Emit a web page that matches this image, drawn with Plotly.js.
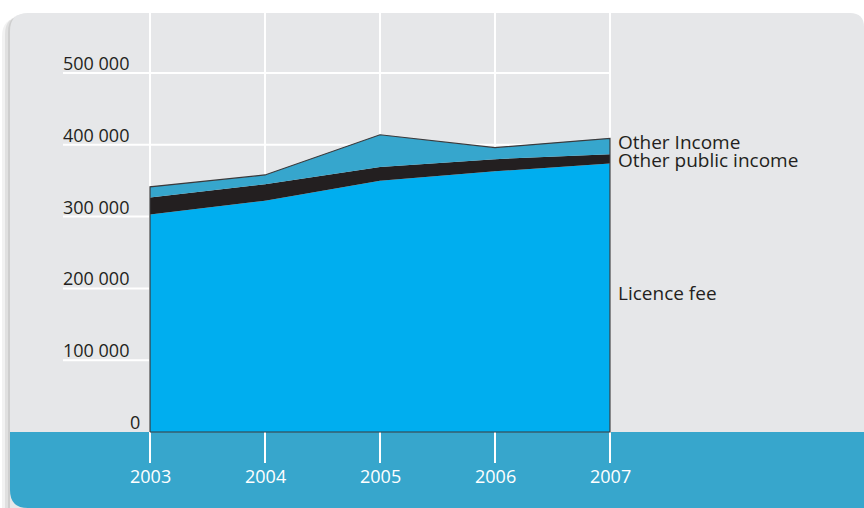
<!DOCTYPE html>
<html>
<head>
<meta charset="utf-8">
<script src="https://cdn.plot.ly/plotly-3.0.1.min.js"></script>
<style>html,body{margin:0;padding:0;background:#fff;}#chart{width:864px;height:508px;}</style>
</head>
<body>
<div id="chart"></div>
<script>
// ---- data ----
const years = [2003, 2004, 2005, 2006, 2007];
const licenceFee = [303000, 322000, 350000, 363000, 374000];
const otherPublicIncome = [23500, 23000, 19000, 17000, 13000];
const otherIncome = [15000, 13000, 45000, 16000, 22000];
const yTicks = [0, 100000, 200000, 300000, 400000, 500000];
const yTickLabels = ['0', '100 000', '200 000', '300 000', '400 000', '500 000'];
const seriesNames = ['Licence fee', 'Other public income', 'Other Income'];

// ---- geometry helpers (pixel layout of the page) ----
const W = 864, H = 508;
const X0PX = 150, PXPERYEAR = 115;
const ZEROPX = 432, PXPER100K = 71.8;
const px = x => x / W;
const py = y => 1 - y / H;
const xr = [years[0] - X0PX / PXPERYEAR, years[0] + (W - X0PX) / PXPERYEAR];
const unit = 100000 / PXPER100K;
const yr = [-(H - ZEROPX) * unit, ZEROPX * unit];
const xAt = p => years[0] + (p - X0PX) / PXPERYEAR;

const dark = '#231f20';
const font = "'Open Sans', 'Noto Sans', sans-serif";

function panelPath(dx, dy) {
  const P = (x, y) => px(x + dx) + ',' + py(y + dy);
  return 'M' + P(10, 31) + ' Q' + P(10, 13) + ' ' + P(28, 13) + ' L' + P(850, 13) +
    ' Q' + P(864, 13) + ' ' + P(864, 27) + ' L' + P(864, 508) + ' L' + P(10, 508) + ' Z';
}
function bandPath() {
  const P = (x, y) => px(x) + ',' + py(y);
  return 'M' + P(10, 432) + ' L' + P(864, 432) + ' L' + P(864, 508) + ' L' + P(28, 508) +
    ' Q' + P(10, 508) + ' ' + P(10, 490) + ' Z';
}

const shapes = [];
shapes.push({type: 'path', xref: 'paper', yref: 'paper', layer: 'below', path: panelPath(-8, 5), fillcolor: 'rgba(0,0,0,0.05)', line: {width: 0}});
shapes.push({type: 'path', xref: 'paper', yref: 'paper', layer: 'below', path: panelPath(-5, 3), fillcolor: 'rgba(0,0,0,0.07)', line: {width: 0}});
shapes.push({type: 'path', xref: 'paper', yref: 'paper', layer: 'below', path: panelPath(-2, 1), fillcolor: 'rgba(0,0,0,0.08)', line: {width: 0}});
shapes.push({type: 'path', xref: 'paper', yref: 'paper', layer: 'below', path: panelPath(0, 0), fillcolor: '#e6e7e9', line: {width: 0}});
shapes.push({type: 'path', xref: 'paper', yref: 'paper', layer: 'below', path: bandPath(), fillcolor: '#37a6cc', line: {width: 0}});
// horizontal grid lines
yTicks.forEach(v => {
  if (v === 0) return;
  shapes.push({type: 'line', xref: 'x', yref: 'y', layer: 'below', x0: xAt(63), x1: years[years.length - 1], y0: v, y1: v, line: {color: '#ffffff', width: 2}});
});
// vertical grid lines + ticks into the band
years.forEach(y => {
  shapes.push({type: 'line', xref: 'x', yref: 'paper', layer: 'below', x0: y, x1: y, y0: py(13), y1: py(463), line: {color: '#ffffff', width: 2}});
});

// ---- traces ----
const cum1 = licenceFee.map((v, i) => v + otherPublicIncome[i]);
const total = cum1.map((v, i) => v + otherIncome[i]);
const traces = [
  {x: years, y: licenceFee, name: seriesNames[0], type: 'scatter', mode: 'lines', stackgroup: 'a', fillcolor: '#00aeef', line: {width: 0, color: '#00aeef'}, hoverinfo: 'skip'},
  {x: years, y: otherPublicIncome, name: seriesNames[1], type: 'scatter', mode: 'lines', stackgroup: 'a', fillcolor: dark, line: {width: 0, color: dark}, hoverinfo: 'skip'},
  {x: years, y: otherIncome, name: seriesNames[2], type: 'scatter', mode: 'lines', stackgroup: 'a', fillcolor: '#36a6cd', line: {width: 0, color: '#36a6cd'}, hoverinfo: 'skip'},
  {x: [years[0]].concat(years, [years[years.length - 1], years[0]]),
   y: [0].concat(total, [0, 0]),
   type: 'scatter', mode: 'lines', line: {color: '#3a3a3c', width: 1.2}, hoverinfo: 'skip', showlegend: false}
];

// ---- annotations ----
const annotations = [];
yTicks.forEach((v, i) => {
  annotations.push({xref: 'paper', yref: 'y', x: px(v === 0 ? 142 : 131), y: v, xanchor: 'right', yanchor: 'bottom', yshift: -4,
    text: yTickLabels[i], showarrow: false, font: {family: font, size: 18, color: dark}});
});
years.forEach(y => {
  annotations.push({xref: 'x', yref: 'paper', x: y, y: py(476), xanchor: 'center', yanchor: 'middle',
    text: String(y), showarrow: false, font: {family: font, size: 18, color: '#ffffff'}});
});
const labelY = [293, 160, 142];
seriesNames.forEach((n, i) => {
  annotations.push({xref: 'paper', yref: 'paper', x: px(617), y: py(labelY[i]), xanchor: 'left', yanchor: 'middle',
    text: n, showarrow: false, borderpad: 0, font: {family: font, size: 19, color: dark}});
});

const layout = {
  width: W, height: H,
  margin: {l: 0, r: 0, t: 0, b: 0, pad: 0},
  paper_bgcolor: '#ffffff', plot_bgcolor: 'rgba(0,0,0,0)',
  showlegend: false,
  xaxis: {range: xr, showgrid: false, zeroline: false, showticklabels: false, ticks: '', fixedrange: true},
  yaxis: {range: yr, showgrid: false, zeroline: false, showticklabels: false, ticks: '', fixedrange: true},
  shapes: shapes,
  annotations: annotations,
  hovermode: false
};

Plotly.newPlot('chart', traces, layout, {displayModeBar: false, staticPlot: true});
</script>
</body>
</html>
